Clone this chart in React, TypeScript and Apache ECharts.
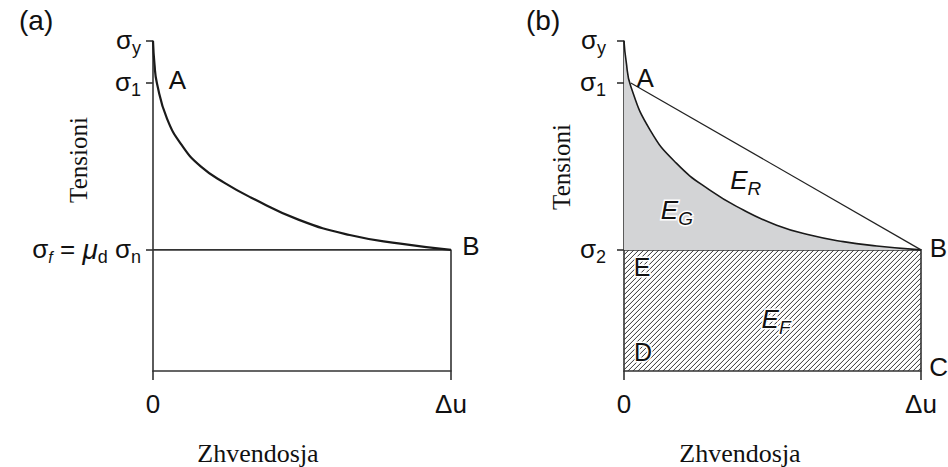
import React, { useEffect, useRef } from "react";
import * as echarts from "echarts";

// Stress levels (σy normalised to 100), displacement normalised to Δu = 100
const SIG_Y = 100;
const SIG_1 = 87.3;
const SIG_2 = 36.7;
const DU = 100;

// Panel (a) softening curve
const curveAX = [0, 0.5, 1.3, 4.7, 10, 16, 24, 33, 49, 66, 83, 100];
const curveAY = [100, 93, 87.3, 76.5, 68, 62, 57, 52.5, 45.8, 41.2, 38.6, 36.7];

// Panel (b) softening curve
const curveBX = [0, 0.7, 2.3, 8.8, 17.7, 28.9, 40.2, 51.4, 62.6, 73.8, 85.1, 100];
const curveBY = [100, 94, 86.2, 73, 62.9, 54.8, 48.8, 44.2, 41.2, 39.2, 37.9, 36.7];

const xTickValues = [0, DU];
const xTickLabels = ["0", "Δu"];

// Point labels [x, y, text]
const labelsA: [number, number, string][] = [
  [8.2, 88.2, "A"],
  [106.7, 37.8, "B"],
];
const labelsB: [number, number, string][] = [
  [7.1, 88.8, "A"],
  [105.9, 37.2, "B"],
  [105.9, 1.1, "C"],
  [6.4, 5.8, "{m|D}"],
  [6.1, 31.5, "{m|E}"],
  [51.2, 15.5, "{e|E}{es|F}"],
  [17.8, 48.5, "{e|E}{es|G}"],
  [41, 57.5, "{e|E}{es|R}"],
];

const SANS = "'Liberation Sans', Arial, Helvetica, sans-serif";
const SERIF = "'Liberation Serif', 'Times New Roman', serif";
const INK = "#111111";
const AXIS = "#333333";

const zip = (xs: number[], ys: number[]) => xs.map((x, i) => [x, ys[i]]);

const sigmaRich = {
  m: { fontFamily: SANS, fontSize: 26, color: INK, lineHeight: 28, verticalAlign: "top" },
  s: { fontFamily: SANS, fontSize: 18, color: INK, lineHeight: 18, padding: [12, 0, 0, 0], verticalAlign: "top" },
  si: { fontFamily: SANS, fontSize: 16, fontStyle: "italic", color: INK, lineHeight: 18, padding: [14, 0, 0, 0], verticalAlign: "top" },
  mu: { fontFamily: SANS, fontSize: 28, fontStyle: "italic", color: INK, lineHeight: 28, verticalAlign: "top" },
};

const labelRich = {
  m: { fontFamily: SANS, fontSize: 25, color: INK, textBorderColor: "#fff", textBorderWidth: 3 },
  e: { fontFamily: SANS, fontSize: 26, fontStyle: "italic", color: INK, textBorderColor: "#fff", textBorderWidth: 3, lineHeight: 28, verticalAlign: "top" },
  es: { fontFamily: SANS, fontSize: 19, fontStyle: "italic", color: INK, textBorderColor: "#fff", textBorderWidth: 3, lineHeight: 19, padding: [12, 0, 0, 0], verticalAlign: "top" },
};

function yLabelA(v: number) {
  if (Math.abs(v - SIG_Y) < 0.01) return "{m|σ}{s|y}";
  if (Math.abs(v - SIG_1) < 0.01) return "{m|σ}{s|1}";
  if (Math.abs(v - SIG_2) < 0.01) return "{m|σ}{si|f}{m| = }{mu|μ}{s|d}{m| σ}{s|n}";
  return "";
}
function yLabelB(v: number) {
  if (Math.abs(v - SIG_Y) < 0.01) return "{m|σ}{s|y}";
  if (Math.abs(v - SIG_1) < 0.01) return "{m|σ}{s|1}";
  if (Math.abs(v - SIG_2) < 0.01) return "{m|σ}{s|2}";
  return "";
}

function makeXAxis(gridIndex: number) {
  return {
    type: "value",
    gridIndex,
    min: 0,
    max: DU,
    axisLine: { show: true, lineStyle: { color: AXIS, width: 1.6 } },
    axisTick: { show: true, length: 9, customValues: xTickValues, lineStyle: { color: AXIS, width: 1.6 } },
    axisLabel: {
      show: true,
      customValues: xTickValues,
      margin: 20,
      fontFamily: SANS,
      fontSize: 26,
      color: INK,
      formatter: (v: number) => xTickLabels[xTickValues.indexOf(v)] ?? "",
    },
    splitLine: { show: false },
  };
}

function makeYAxis(gridIndex: number, fmt: (v: number) => string, margin: number) {
  const vals = [SIG_2, SIG_1, SIG_Y];
  return {
    type: "value",
    gridIndex,
    min: 0,
    max: SIG_Y,
    axisLine: { show: true, lineStyle: { color: AXIS, width: 1.6 } },
    axisTick: { show: true, length: 7, customValues: vals, lineStyle: { color: AXIS, width: 1.6 } },
    axisLabel: { show: true, customValues: vals, margin, formatter: fmt, rich: sigmaRich },
    splitLine: { show: false },
  };
}

function labelSeries(xi: number, items: [number, number, string][]) {
  return {
    type: "scatter",
    xAxisIndex: xi,
    yAxisIndex: xi,
    symbolSize: 0,
    clip: false,
    silent: true,
    z: 10,
    itemStyle: { opacity: 1 },
    data: items.map(([x, y, t]) => ({
      value: [x, y],
      label: {
        show: true,
        position: "inside",
        formatter: t,
        fontFamily: SANS,
        fontSize: 26,
        color: INK,
        opacity: 1,
        textBorderWidth: 0,
        rich: labelRich,
      },
    })),
  };
}

export default function App() {
  const ref = useRef<HTMLDivElement>(null);
  useEffect(() => {
    if (!ref.current) return;
    const chart = echarts.init(ref.current, null, { renderer: "svg" });
    const option = {
      animation: false,
      backgroundColor: "#ffffff",
      grid: [
        { left: 153, top: 41, width: 298, height: 330 },
        { left: 624, top: 41, width: 297, height: 330 },
      ],
      xAxis: [makeXAxis(0), makeXAxis(1)],
      yAxis: [makeYAxis(0, yLabelA, 12), makeYAxis(1, yLabelB, 18)],
      graphic: [
        { type: "text", x: 19, y: 6, style: { text: "(a)", fontFamily: SANS, fontSize: 28, fill: INK } },
        { type: "text", x: 526, y: 6, style: { text: "(b)", fontFamily: SANS, fontSize: 28, fill: INK } },
        { type: "text", x: 78, y: 160, rotation: Math.PI / 2, style: { text: "Tensioni", fontFamily: SERIF, fontSize: 25, fill: "#111", align: "center", verticalAlign: "middle" } },
        { type: "text", x: 561, y: 167, rotation: Math.PI / 2, style: { text: "Tensioni", fontFamily: SERIF, fontSize: 25, fill: "#111", align: "center", verticalAlign: "middle" } },
        { type: "text", x: 258, y: 453, style: { text: "Zhvendosja", fontFamily: SERIF, fontSize: 26, fill: "#111", align: "center", verticalAlign: "middle" } },
        { type: "text", x: 740, y: 453, style: { text: "Zhvendosja", fontFamily: SERIF, fontSize: 26, fill: "#111", align: "center", verticalAlign: "middle" } },
      ],
      series: [
        // ----- panel (a)
        {
          type: "line",
          xAxisIndex: 0,
          yAxisIndex: 0,
          data: [[0, SIG_2], [DU, SIG_2], [DU, 0]],
          showSymbol: false,
          lineStyle: { color: AXIS, width: 1.6 },
          silent: true,
        },
        {
          type: "line",
          xAxisIndex: 0,
          yAxisIndex: 0,
          data: zip(curveAX, curveAY),
          smooth: 0.5,
          showSymbol: false,
          lineStyle: { color: "#1a1a1a", width: 2.2 },
          silent: true,
          z: 5,
        },
        labelSeries(0, labelsA),
        // ----- panel (b)
        {
          type: "line",
          xAxisIndex: 1,
          yAxisIndex: 1,
          data: zip(curveBX, curveBY),
          smooth: 0.5,
          showSymbol: false,
          lineStyle: { color: "#1a1a1a", width: 1.6 },
          areaStyle: { color: "#d3d4d6", opacity: 1, origin: SIG_2 },
          silent: true,
          z: 4,
        },
        {
          type: "custom",
          xAxisIndex: 1,
          yAxisIndex: 1,
          silent: true,
          clip: false,
          z: 3,
          data: [[0, 0, DU, SIG_2]],
          renderItem: (params: any, api: any) => {
            const p0 = api.coord([api.value(0), api.value(1)]);
            const p1 = api.coord([api.value(2), api.value(3)]);
            const x0 = p0[0], yB = p0[1], x1 = p1[0], yT = p1[1];
            const children: any[] = [];
            const step = 5;
            for (let c = x0 + yT + step; c < x1 + yB; c += step) {
              const xa = Math.max(x0, c - yB);
              const xb = Math.min(x1, c - yT);
              if (xb <= xa) continue;
              children.push({
                type: "line",
                shape: { x1: xa, y1: c - xa, x2: xb, y2: c - xb },
                style: { stroke: "#333", lineWidth: 1.0 },
              });
            }
            children.push({
              type: "polyline",
              shape: { points: [[x0, yT], [x1, yT], [x1, yB]] },
              style: { stroke: AXIS, lineWidth: 1.6, fill: null },
            });
            return { type: "group", children };
          },
        },
        {
          type: "line",
          xAxisIndex: 1,
          yAxisIndex: 1,
          data: [[curveBX[2], SIG_1], [DU, SIG_2]],
          showSymbol: false,
          lineStyle: { color: "#222", width: 1.2 },
          silent: true,
          z: 5,
        },
        labelSeries(1, labelsB),
      ],
    };
    chart.setOption(option as any);
    return () => chart.dispose();
  }, []);
  return (
    <div
      ref={ref}
      style={{ position: "fixed", left: 0, top: 0, width: 948, height: 467, background: "#fff" }}
    />
  );
}
